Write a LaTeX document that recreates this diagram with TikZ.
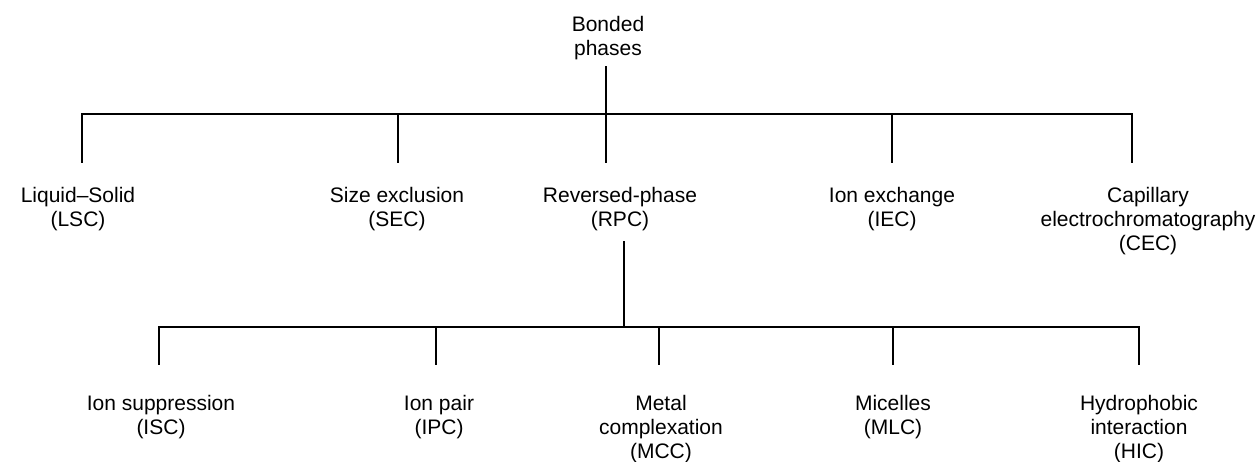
\documentclass[tikz,border=0pt]{standalone}
\usepackage{fontspec}
\setmainfont{Liberation Sans}
\begin{document}
\begin{tikzpicture}[x=1pt,y=-1pt,
  lbl/.style={align=center,inner sep=0pt,anchor=base,font=\fontsize{21}{24}\selectfont},
  link/.style={line width=2.2pt,line cap=rect}]
\useasboundingbox (0,0) rectangle (1259,462);
% labels (y = baseline of the last line)
\node[lbl] (root) at (608,55.5) {Bonded\\phases};
\node[lbl] (lsc) at (78,226.5) {Liquid–Solid\\(LSC)};
\node[lbl] (sec) at (397,226.5) {Size exclusion\\(SEC)};
\node[lbl] (rpc) at (620,226.5) {Reversed-phase\\(RPC)};
\node[lbl] (iec) at (892,226.5) {Ion exchange\\(IEC)};
\node[lbl] (cec) at (1148,250.5) {Capillary\\electrochromatography\\(CEC)};
\node[lbl] (isc) at (161,434.5) {Ion suppression\\(ISC)};
\node[lbl] (ipc) at (439,434.5) {Ion pair\\(IPC)};
\node[lbl] (mcc) at (661,458.5) {Metal\\complexation\\(MCC)};
\node[lbl] (mlc) at (893,434.5) {Micelles\\(MLC)};
\node[lbl] (hic) at (1139,458.5) {Hydrophobic\\interaction\\(HIC)};
% level 1 connector points
\coordinate (r0) at (606,67);
\coordinate (r1) at (606,114);
\coordinate (a1) at (82,114);   \coordinate (b1) at (82,162);
\coordinate (a2) at (398,114);  \coordinate (b2) at (398,162);
\coordinate (a3) at (606,114);  \coordinate (b3) at (606,162);
\coordinate (a4) at (892,114);  \coordinate (b4) at (892,162);
\coordinate (a5) at (1132,114); \coordinate (b5) at (1132,162);
\draw[link] (r0) -- (r1);
\draw[link] (b1) -- (a1) -- (a5) -- (b5);
\draw[link] (a2) -- (b2);
\draw[link] (a3) -- (b3);
\draw[link] (a4) -- (b4);
% level 2 connector points
\coordinate (s0) at (624,242);
\coordinate (s1) at (624,327);
\coordinate (c1) at (159,327);  \coordinate (d1) at (159,364);
\coordinate (c2) at (436,327);  \coordinate (d2) at (436,364);
\coordinate (c3) at (659,327);  \coordinate (d3) at (659,364);
\coordinate (c4) at (893,327);  \coordinate (d4) at (893,364);
\coordinate (c5) at (1139,327); \coordinate (d5) at (1139,364);
\draw[link] (s0) -- (s1);
\draw[link] (d1) -- (c1) -- (c5) -- (d5);
\draw[link] (c2) -- (d2);
\draw[link] (c3) -- (d3);
\draw[link] (c4) -- (d4);
\end{tikzpicture}
\end{document}
